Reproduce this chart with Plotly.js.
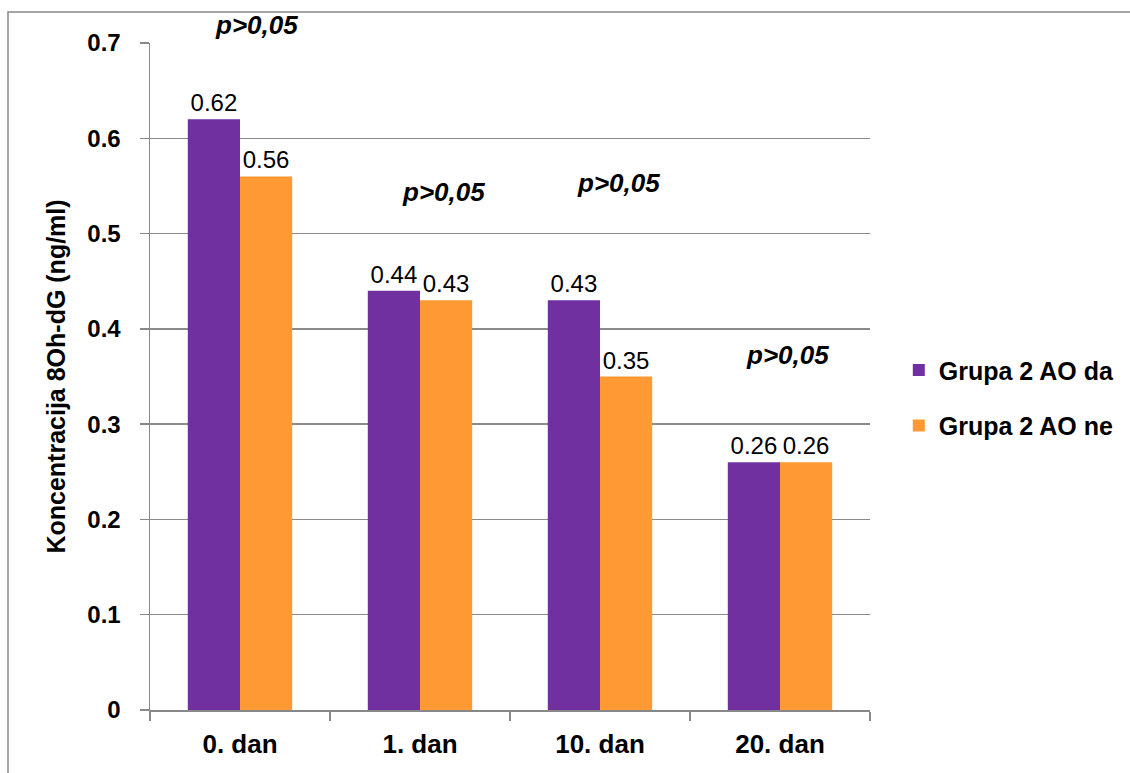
<!DOCTYPE html>
<html>
<head>
<meta charset="utf-8">
<script src="https://cdn.plot.ly/plotly-3.0.1.min.js"></script>
<style>
html,body{margin:0;padding:0;background:#fff;}
#chart{width:1130px;height:773px;}
</style>
</head>
<body>
<div id="chart"></div>
<script>
const categories = ['0. dan', '1. dan', '10. dan', '20. dan'];
const seriesNames = ['Grupa 2 AO da', 'Grupa 2 AO ne'];
const valuesDa = [0.62, 0.44, 0.43, 0.26];
const valuesNe = [0.56, 0.43, 0.35, 0.26];
const yTicks = [0, 0.1, 0.2, 0.3, 0.4, 0.5, 0.6, 0.7];
const yTickLabels = ['0', '0.1', '0.2', '0.3', '0.4', '0.5', '0.6', '0.7'];
const pLabel = 'p>0,05';
const pX = [0.089, 1.128, 2.1, 3.044];
const pYPaper = [1.027, 0.7766, 0.790, 0.532];

const FONT = 'Liberation Sans, Arial, sans-serif';
const colors = ['#7030A0', '#FF9933'];

const traces = [valuesDa, valuesNe].map((vals, i) => ({
  type: 'bar',
  name: seriesNames[i],
  x: categories,
  y: vals,
  marker: {color: colors[i], line: {width: 0}},
  text: vals.map(v => v.toFixed(2)),
  textposition: 'outside',
  cliponaxis: false,
  textfont: {family: FONT, size: 24, color: '#000'},
  legendgroup: 'g' + i,
  hoverinfo: 'x+y'
}));

const annotations = pX.map((x, i) => ({
  x: x,
  y: pYPaper[i],
  xref: 'x', yref: 'paper',
  text: '<b><i>' + pLabel + '</i></b>',
  showarrow: false,
  font: {family: FONT, size: 26, color: '#000'},
  xanchor: 'center', yanchor: 'middle'
}));

const layout = {
  width: 1130, height: 773,
  margin: {l: 150, r: 260, t: 43, b: 63, autoexpand: false},
  paper_bgcolor: '#fff', plot_bgcolor: '#fff',
  barmode: 'group',
  bargap: 0.42,
  bargroupgap: 0,
  showlegend: true,
  legend: {
    x: 1.04, y: 0.468, xanchor: 'left', yanchor: 'middle',
    font: {family: FONT, size: 25, color: '#000', weight: 'bold'},
    traceorder: 'grouped',
    tracegroupgap: 20,
    itemwidth: 30,
    bgcolor: 'rgba(0,0,0,0)'
  },
  xaxis: {
    type: 'category',
    range: [-0.5, 3.5],
    tickson: 'boundaries',
    ticks: 'outside', ticklen: 9, tickcolor: '#888', tickwidth: 1.5,
    showline: true, linecolor: '#888', linewidth: 2,
    showgrid: false,
    ticklabelstandoff: 10,
    tickfont: {family: FONT, size: 26, color: '#000', weight: 'bold'},
    fixedrange: true
  },
  yaxis: {
    range: [0, 0.7],
    tickmode: 'array', tickvals: yTicks, ticktext: yTickLabels,
    ticks: 'outside', ticklen: 9, tickcolor: '#888', tickwidth: 1.5,
    showline: true, linecolor: '#888', linewidth: 1.5,
    showgrid: true, gridcolor: '#8a8a8a', gridwidth: 1.5,
    zeroline: false,
    ticklabelstandoff: 14,
    tickfont: {family: FONT, size: 24, color: '#000', weight: 'bold'},
    title: {text: 'Koncentracija 8Oh-dG (ng/ml)', standoff: 14,
            font: {family: FONT, size: 25, color: '#000', weight: 'bold'}},
    fixedrange: true
  },
  annotations: annotations,
  shapes: [{
    type: 'rect', xref: 'paper', yref: 'paper',
    x0: (8 - 150) / 720, x1: (1135 - 150) / 720,
    y0: (710 - 780) / 667, y1: (710 - 12) / 667,
    line: {color: '#888', width: 1.5}, fillcolor: 'rgba(0,0,0,0)', layer: 'below'
  }]
};

Plotly.newPlot('chart', traces, layout, {displayModeBar: false, staticPlot: true});
</script>
</body>
</html>
